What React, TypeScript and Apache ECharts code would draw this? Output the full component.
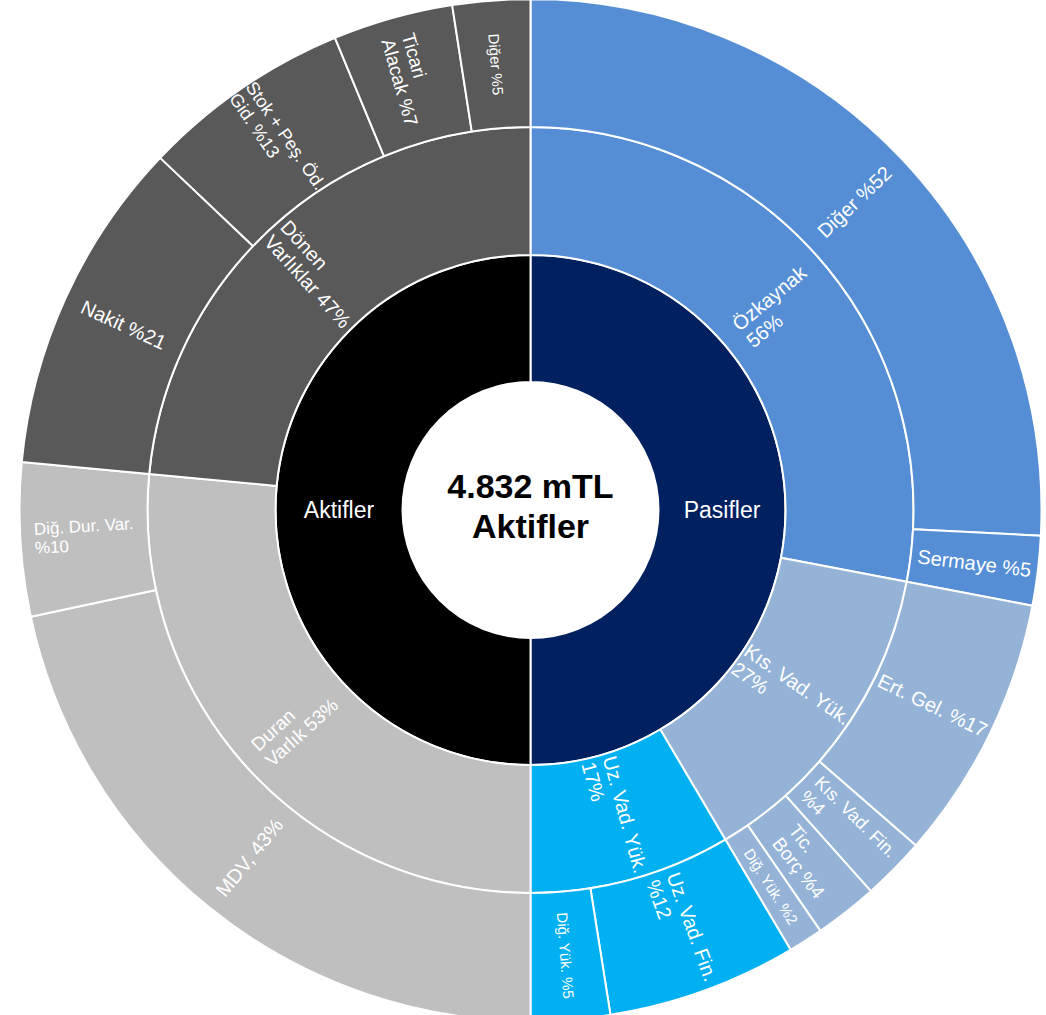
import React, { useEffect, useRef } from 'react';
import * as echarts from 'echarts';

// ---- data ----
const sideNames = ['Pasifler', 'Aktifler'];
const sideValues = [100, 100];

const groupNames = ['Özkaynak', 'Kıs. Vad. Yük.', 'Uz. Vad. Yük.', 'Duran Varlık', 'Dönen Varlıklar'];
const groupSide = [0, 0, 0, 1, 1];
const groupValues = [56, 27, 17, 53, 47];
const groupLabelLines = [
  ['Özkaynak', '56%'],
  ['Kıs. Vad. Yük.', '27%'],
  ['Uz. Vad. Yük.', '17%'],
  ['Duran', 'Varlık 53%'],
  ['Dönen', 'Varlıklar 47%'],
];

const leafNames = [
  'Diğer', 'Sermaye', 'Ert. Gel.', 'Kıs. Vad. Fin.', 'Tic. Borç', 'Diğ. Yük.',
  'Uz. Vad. Fin.', 'Diğ. Yük. (UV)', 'MDV', 'Diğ. Dur. Var.', 'Nakit',
  'Stok + Peş. Öd. Gid.', 'Ticari Alacak', 'Diğer (DV)',
];
const leafGroup = [0, 0, 1, 1, 1, 1, 2, 2, 3, 3, 4, 4, 4, 4];
const leafValues = [51.6, 4.4, 16.8, 4.0, 4.0, 2.2, 12, 5, 43.3, 9.7, 21.2, 13.3, 7.6, 4.9];
const leafLabelLines = [
  ['Diğer %52'],
  ['Sermaye %5'],
  ['Ert. Gel. %17'],
  ['Kıs. Vad. Fin.', '%4'],
  ['Tic.', 'Borç %4'],
  ['Diğ. Yük. %2'],
  ['Uz. Vad. Fin.', '%12'],
  ['Diğ. Yük. %5'],
  ['MDV, 43%'],
  ['Diğ. Dur. Var.', '%10'],
  ['Nakit %21'],
  ['Stok + Peş. Öd.', 'Gid. %13'],
  ['Ticari', 'Alacak %7'],
  ['Diğer %5'],
];

const centerTitle = ['4.832 mTL', 'Aktifler'];

// ---- styles ----
const FONT = '"Liberation Sans", Arial, Helvetica, sans-serif';
const sideColors = ['#002060', '#000000'];
const groupColors = ['#558ed5', '#95b3d7', '#00b0f0', '#bfbfbf', '#595959'];
const groupFontSizes = [20, 20, 20, 19, 20];
const leafFontSizes = [20, 20, 20, 18, 19, 15, 20, 15, 20, 17, 20, 18, 19, 15];

function makeLabel(lines: string[], fontSize: number) {
  const text = lines.map((l) => `{L|${l}}`).join('\n');
  return {
    show: true,
    formatter: () => text,
    color: '#ffffff',
    fontSize,
    fontFamily: FONT,
    rich: {
      L: {
        align: 'left',
        fontSize,
        fontFamily: FONT,
        color: '#ffffff',
        lineHeight: Math.round(fontSize * 1.12),
      },
    },
  };
}

function buildData() {
  return sideNames.map((sName, si) => ({
    name: sName,
    value: sideValues[si],
    itemStyle: { color: sideColors[si] },
    label: { show: true, color: '#ffffff', fontSize: 23, fontFamily: FONT },
    children: groupNames
      .map((gName, gi) => ({ gName, gi }))
      .filter(({ gi }) => groupSide[gi] === si)
      .map(({ gName, gi }) => ({
        name: gName,
        value: groupValues[gi],
        itemStyle: { color: groupColors[gi] },
        label: makeLabel(groupLabelLines[gi], groupFontSizes[gi]),
        children: leafNames
          .map((lName, li) => ({ lName, li }))
          .filter(({ li }) => leafGroup[li] === gi)
          .map(({ lName, li }) => ({
            name: lName,
            value: leafValues[li],
            itemStyle: { color: groupColors[gi] },
            label: makeLabel(leafLabelLines[li], leafFontSizes[li]),
          })),
      })),
  }));
}

export default function App() {
  const ref = useRef<HTMLDivElement>(null);

  useEffect(() => {
    if (!ref.current) return;
    const chart = echarts.init(ref.current, undefined, { renderer: 'svg' });
    chart.setOption({
      animation: false,
      backgroundColor: '#ffffff',
      series: [
        {
          type: 'sunburst',
          center: [530.5, 510],
          radius: [128, 511],
          sort: null,
          nodeClick: false,
          startAngle: 90,
          emphasis: { focus: 'none' },
          itemStyle: { borderColor: '#ffffff', borderWidth: 2 },
          label: { rotate: 'radial', color: '#ffffff', fontFamily: FONT },
          levels: [
            {},
            { r0: 128, r: 255 },
            { r0: 255, r: 383 },
            { r0: 383, r: 511 },
          ],
          data: buildData(),
        },
      ],
      graphic: [
        {
          type: 'text',
          x: 530.5,
          y: 506,
          z: 100,
          style: {
            text: centerTitle.join('\n'),
            fontSize: 34,
            fontWeight: 'bold',
            fontFamily: FONT,
            fill: '#000000',
            align: 'center',
            verticalAlign: 'middle',
            lineHeight: 40,
          },
        },
      ],
    });
    return () => chart.dispose();
  }, []);

  return (
    <div
      ref={ref}
      style={{ position: 'fixed', left: 0, top: 0, width: 1046, height: 1015, background: '#fff' }}
    />
  );
}
